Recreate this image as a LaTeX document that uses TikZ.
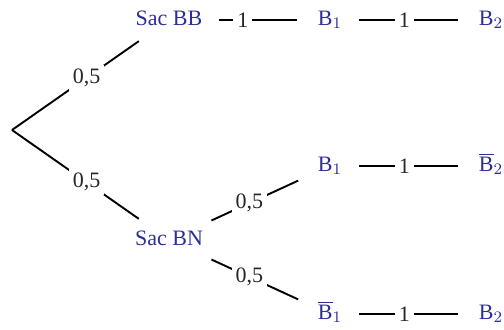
\documentclass[tikz,border=0pt]{standalone}
\usepackage{fontspec}
\setmainfont{Liberation Serif}
\usetikzlibrary{positioning}
\definecolor{evblue}{RGB}{45,45,155}
\tikzset{
  ev/.style={text=evblue, font=\fontsize{11}{13}\selectfont,
             text height=7.5pt, text depth=2pt},
  br/.style={line width=0.95pt},
  prob/.style={fill=white, inner sep=2pt, text=black!85,
               font=\fontsize{11}{13}\selectfont},
}

\begin{document}
\begin{tikzpicture}[
  on grid, node distance=80.5pt,
  first/.style={br, shorten >=4pt},
  next/.style={br, shorten <=5pt, shorten >=7pt},
]
  \useasboundingbox (-6pt,65pt) rectangle (246pt,-99.5pt);

  \coordinate (root) at (0,0);

  \node[ev, above right=55pt and 78.5pt of root, anchor=center] (bb) {Sac BB};
  \node[ev, below right=55pt and 78.5pt of root, anchor=center] (bn) {Sac BN};

  \node[ev, right=of bb] (b1) {$\mathrm{B}_1$};
  \node[ev, right=of b1] (b2) {$\mathrm{B}_2$};

  \node[ev, above right=37pt and 80.5pt of bn] (c1) {$\mathrm{B}_1$};
  \node[ev, right=of c1] (c2) {$\overline{\mathrm{B}}_2$};

  \node[ev, below right=37pt and 80.5pt of bn] (d1) {$\overline{\mathrm{B}}_1$};
  \node[ev, right=of d1] (d2) {$\mathrm{B}_2$};

  \draw[first] (root) -- node[prob, pos=0.56]{0,5} (bb);
  \draw[first] (root) -- node[prob, pos=0.56]{0,5} (bn);

  \draw[next, shorten <=3.5pt] (bn) -- node[prob, pos=0.42]{0,5} (c1);
  \draw[next, shorten <=3.5pt] (bn) -- node[prob, pos=0.42]{0,5} (d1);

  \foreach \from/\to/\p in {bb/b1/0.33, b1/b2/0.45, c1/c2/0.45, d1/d2/0.45}
    \draw[next] (\from) -- node[prob, pos=\p]{1} (\to);

\end{tikzpicture}
\end{document}
